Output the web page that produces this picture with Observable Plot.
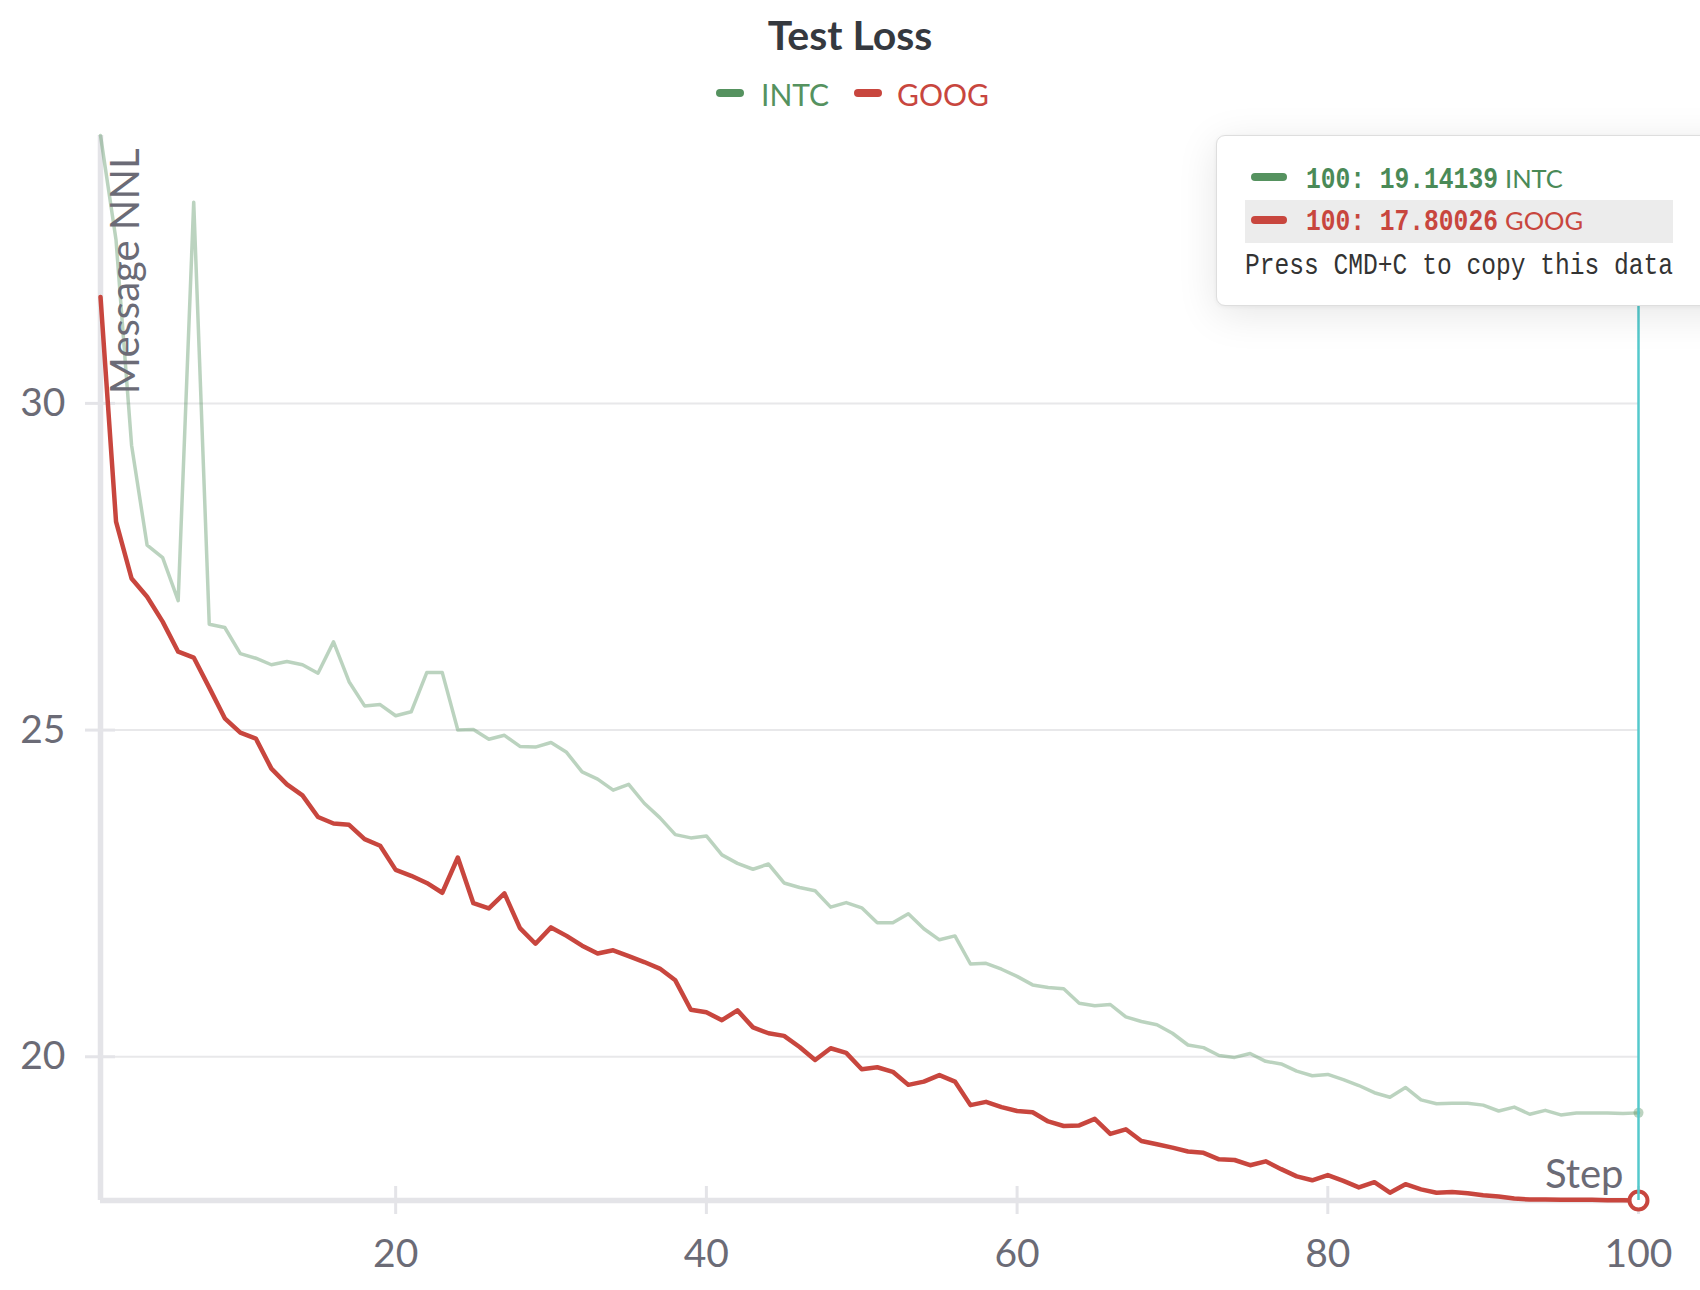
<!DOCTYPE html>
<html>
<head>
<meta charset="utf-8">
<script src="https://cdn.jsdelivr.net/npm/d3@7"></script>
<script src="https://cdn.jsdelivr.net/npm/@observablehq/plot@0.6"></script>
<style>
  html, body { margin:0; padding:0; background:#fff; }
  body { width:1700px; height:1290px; overflow:hidden; position:relative; font-family: Lato, "Noto Sans", sans-serif; }
  #title { position:absolute; left:0; width:1700px; text-align:center; top:13.6px; font-size:41px; line-height:41px; font-weight:700; color:#35393f; white-space:nowrap; }
  .leg-swatch { position:absolute; height:8px; width:28px; border-radius:4px; top:88.5px; }
  .leg-text { position:absolute; top:78.5px; font-size:30px; line-height:30px; white-space:nowrap; }
  #chart { position:absolute; left:0; top:110px; }
  #tip { position:absolute; left:1216px; top:135px; width:540px; height:169px; background:#fff; border:1.5px solid #dedede; border-radius:9px; box-shadow: 0 8px 40px rgba(0,0,0,0.10), 0 1px 4px rgba(0,0,0,0.05); }
  .tip-hl { position:absolute; left:28px; top:63.5px; width:428px; height:43px; background:#ececec; }
  .tip-sw { position:absolute; left:34px; width:36px; height:8px; border-radius:4px; }
  .mono { position:absolute; font-family:"Liberation Mono", "DejaVu Sans Mono", monospace; font-size:30px; line-height:30px; white-space:pre; transform:scaleX(0.82); transform-origin:0 0; }
  .tip-name { position:absolute; left:288px; font-size:25.5px; line-height:25.5px; white-space:nowrap; }
</style>
</head>
<body>
<div id="title">Test Loss</div>
<div id="legend"></div>
<div id="chart"></div>
<div id="tip"></div>
<script>
// ---------- data ----------
const seriesNames = ["INTC", "GOOG"];
const seriesColors = ["#55925f", "#c8463e"];
const tipTextColors = ["#4a8a57", "#c8463e"];
const steps = Array.from({length: 100}, (_, i) => i + 1);
const intc = [
  34.10, 32.50, 29.36, 27.83, 27.64, 26.98, 33.08, 26.62, 26.57, 26.17,
  26.10, 26.00, 26.05, 26.00, 25.87, 26.35, 25.74, 25.37, 25.39, 25.22,
  25.28, 25.88, 25.88, 25.00, 25.01, 24.86, 24.92, 24.75, 24.74, 24.81,
  24.66, 24.36, 24.25, 24.08, 24.17, 23.88, 23.66, 23.40, 23.35, 23.38,
  23.09, 22.96, 22.87, 22.95, 22.66, 22.59, 22.54, 22.29, 22.36, 22.28,
  22.05, 22.05, 22.19, 21.96, 21.79, 21.85, 21.42, 21.43, 21.34, 21.23,
  21.10, 21.06, 21.04, 20.82, 20.78, 20.80, 20.61, 20.54, 20.49, 20.36,
  20.18, 20.14, 20.02, 19.99, 20.05, 19.93, 19.89, 19.78, 19.71, 19.73,
  19.65, 19.56, 19.45, 19.38, 19.53, 19.34, 19.28, 19.29, 19.29, 19.26,
  19.17, 19.23, 19.12, 19.18, 19.11, 19.14, 19.14, 19.14, 19.13, 19.14139
];
const goog = [
  31.63, 28.19, 27.32, 27.04, 26.66, 26.20, 26.11, 25.65, 25.18, 24.96,
  24.87, 24.41, 24.17, 24.00, 23.67, 23.57, 23.55, 23.33, 23.23, 22.86,
  22.77, 22.66, 22.51, 23.05, 22.35, 22.27, 22.50, 21.97, 21.73, 21.98,
  21.85, 21.70, 21.58, 21.63, 21.54, 21.45, 21.35, 21.17, 20.72, 20.68,
  20.56, 20.71, 20.45, 20.36, 20.32, 20.15, 19.95, 20.13, 20.06, 19.81,
  19.84, 19.77, 19.57, 19.62, 19.72, 19.62, 19.26, 19.31, 19.23, 19.17,
  19.15, 19.01, 18.94, 18.95, 19.05, 18.82, 18.89, 18.71, 18.66, 18.61,
  18.55, 18.53, 18.43, 18.42, 18.34, 18.40, 18.28, 18.17, 18.11, 18.19,
  18.10, 18.00, 18.08, 17.92, 18.05, 17.97, 17.92, 17.93, 17.91, 17.88,
  17.86, 17.83, 17.815, 17.815, 17.81, 17.81, 17.81, 17.805, 17.805, 17.80026
];
const xTicks = [20, 40, 60, 80, 100];
const yTicks = [20, 25, 30];
const tooltipStep = 100;
const tooltipValueText = ["19.14139", "17.80026"];
const yLabel = "Message NNL";
const xLabel = "Step";
const copyHint = "Press CMD+C to copy this data";

// ---------- table ----------
const seriesValues = [intc, goog];
const rows = [];
seriesNames.forEach((name, k) => {
  steps.forEach((s, i) => rows.push({step: s, value: seriesValues[k][i], series: name}));
});

// ---------- legend ----------
const legend = document.getElementById("legend");
const legPos = [{sw: 716, tx: 761}, {sw: 854, tx: 897}];
seriesNames.forEach((name, k) => {
  const sw = document.createElement("div");
  sw.className = "leg-swatch";
  sw.style.left = legPos[k].sw + "px";
  sw.style.background = seriesColors[k];
  legend.appendChild(sw);
  const tx = document.createElement("div");
  tx.className = "leg-text";
  tx.style.left = legPos[k].tx + "px";
  tx.style.color = seriesColors[k];
  tx.textContent = name;
  legend.appendChild(tx);
});

// ---------- chart ----------
const W = 1700, H = 1180, mt = 25, mb = 90, ml = 100, mr = 62;
const frameW = W - ml - mr, frameH = H - mt - mb;
const xDom = d3.extent(steps);
const yDom = d3.extent(rows, d => d.value);
const axisGray = "#e4e4e8";
const textGray = "#6b6b76";

const chart = Plot.plot({
  width: W, height: H,
  marginTop: mt, marginBottom: mb, marginLeft: ml, marginRight: mr,
  x: {domain: xDom},
  y: {domain: yDom},
  style: {fontFamily: "Lato, 'Noto Sans', sans-serif", background: "transparent", overflow: "visible"},
  marks: [
    Plot.ruleY(yTicks, {stroke: "#e8e8ea", strokeWidth: 2}),
    Plot.tickY(yTicks, {y: d => d, stroke: axisGray, strokeWidth: 3, insetRight: frameW - 15}),
    Plot.axisY({ticks: yTicks, tickSize: 15, tickPadding: 20, stroke: axisGray, strokeWidth: 3, fill: textGray, fontSize: 39, label: null}),
    Plot.axisX({ticks: xTicks, tickSize: 14, tickPadding: 25, stroke: axisGray, strokeWidth: 3, fill: textGray, fontSize: 39, label: null}),
    Plot.tickX(xTicks, {x: d => d, stroke: axisGray, strokeWidth: 3, insetTop: frameH - 14}),
    Plot.ruleX([xDom[0]], {stroke: axisGray, strokeWidth: 5.5}),
    Plot.ruleY([yDom[0]], {stroke: axisGray, strokeWidth: 5.5}),
    Plot.line(rows, {filter: d => d.series === seriesNames[0], x: "step", y: "value", stroke: seriesColors[0], strokeOpacity: 0.4, strokeWidth: 3.5}),
    Plot.line(rows, {filter: d => d.series === seriesNames[1], x: "step", y: "value", stroke: seriesColors[1], strokeWidth: 4.5}),
    Plot.text([yLabel], {frameAnchor: "top-left", rotate: -90, textAnchor: "end", lineAnchor: "middle", dx: 26, dy: 13, fontSize: 40, fill: textGray}),
    Plot.text([xLabel], {frameAnchor: "bottom-right", textAnchor: "end", lineAnchor: "bottom", dx: -15, dy: -13, fontSize: 40, fill: textGray}),
    Plot.dot(rows, {filter: d => d.step === tooltipStep && d.series === seriesNames[0], x: "step", y: "value", r: 5, fill: seriesColors[0], fillOpacity: 0.4}),
    Plot.dot(rows, {filter: d => d.step === tooltipStep && d.series === seriesNames[1], x: "step", y: "value", r: 9, fill: "white", stroke: seriesColors[1], strokeWidth: 4}),
    Plot.ruleX([tooltipStep], {stroke: "#55c9cc", strokeWidth: 2.5})
  ]
});
document.getElementById("chart").appendChild(chart);

// ---------- tooltip ----------
const tip = document.getElementById("tip");
const hl = document.createElement("div");
hl.className = "tip-hl";
tip.appendChild(hl);
const rowTop = [{sw: 37, mono: 29, name: 29.5}, {sw: 80, mono: 71, name: 71.5}];
seriesNames.forEach((name, k) => {
  const sw = document.createElement("div");
  sw.className = "tip-sw";
  sw.style.top = rowTop[k].sw + "px";
  sw.style.background = seriesColors[k];
  tip.appendChild(sw);
  const m = document.createElement("div");
  m.className = "mono";
  m.style.left = "89px";
  m.style.top = rowTop[k].mono + "px";
  m.style.color = tipTextColors[k];
  m.style.fontWeight = "700";
  m.textContent = tooltipStep + ": " + tooltipValueText[k];
  tip.appendChild(m);
  const n = document.createElement("div");
  n.className = "tip-name";
  n.style.top = rowTop[k].name + "px";
  n.style.color = tipTextColors[k];
  n.textContent = name;
  tip.appendChild(n);
});
const hint = document.createElement("div");
hint.className = "mono";
hint.style.left = "28px";
hint.style.top = "115px";
hint.style.color = "#333";
hint.textContent = copyHint;
tip.appendChild(hint);
</script>
</body>
</html>
